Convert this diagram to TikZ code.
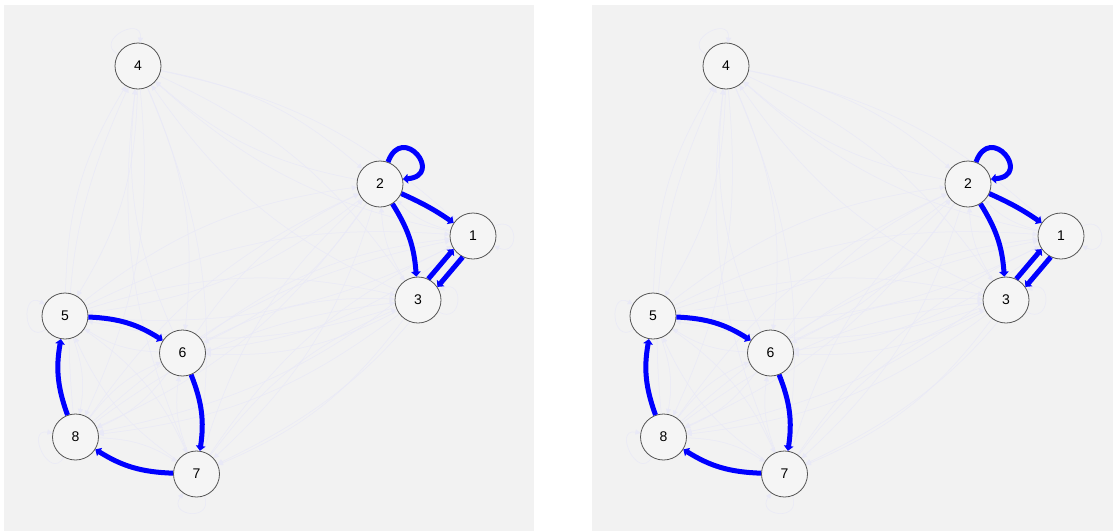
\documentclass[tikz,border=0pt]{standalone}
\usepackage{fontspec}
\setmainfont{Liberation Sans}
\usetikzlibrary{arrows.meta}
\pgfdeclarelayer{panelbg}
\pgfdeclarelayer{edgelayer}
\pgfsetlayers{panelbg,edgelayer,main}
\definecolor{bgc}{RGB}{242,242,242}
\definecolor{faintc}{RGB}{233,233,247}
\definecolor{nodefill}{RGB}{245,245,245}
\definecolor{nodeline}{RGB}{85,85,85}
\tikzset{
  vtx/.style={circle,draw=nodeline,fill=nodefill,line width=0.8pt,minimum size=46pt,inner sep=0pt,font=\fontsize{14}{14}\selectfont},
  faint/.style={draw=faintc,line width=0.5pt,-{Triangle[length=5pt,width=5pt]}},
  strong/.style={draw=blue,line width=5pt,-{Triangle[length=5pt,width=9.5pt]}},
}
\newcommand\drawpanel[2]{%
\begin{scope}[xshift=#2pt]
  \begin{pgfonlayer}{panelbg}
    \fill[bgc] (4,-5) rectangle (534,-531);
  \end{pgfonlayer}
  \node[vtx] (#1n1) at (473,-236) {1};
  \node[vtx] (#1n2) at (380,-184) {2};
  \node[vtx] (#1n3) at (418,-300) {3};
  \node[vtx] (#1n4) at (138,-66) {4};
  \node[vtx] (#1n5) at (65,-316) {5};
  \node[vtx] (#1n6) at (182.5,-353) {6};
  \node[vtx] (#1n7) at (196.5,-474) {7};
  \node[vtx] (#1n8) at (75.5,-437) {8};
  \begin{pgfonlayer}{edgelayer}
  \foreach \a/\b in {1/2,1/4,1/5,1/6,1/7,1/8,2/4,2/5,2/6,2/7,2/8,3/2,3/4,3/5,3/6,3/7,3/8,
                     4/1,4/2,4/3,4/5,4/6,4/7,4/8,5/1,5/2,5/3,5/4,5/7,5/8,6/1,6/2,6/3,6/4,6/5,6/8,
                     7/1,7/2,7/3,7/4,7/5,7/6,8/1,8/2,8/3,8/4,8/6,8/7}
    {\draw[faint] (#1n\a) to[bend left=15] (#1n\b);}
  \draw[faint] (#1n4) to[out=150,in=85,min distance=28pt] (#1n4);
  \draw[faint] (#1n5) to[out=215,in=150,min distance=28pt] (#1n5);
  \draw[faint] (#1n8) to[out=240,in=170,min distance=28pt] (#1n8);
  \draw[faint] (#1n7) to[out=290,in=235,min distance=28pt] (#1n7);
  \draw[faint] (#1n3) to[out=-30,in=25,min distance=28pt] (#1n3);
  \draw[faint] (#1n1) to[out=25,in=-25,min distance=28pt] (#1n1);
  \end{pgfonlayer}
  \draw[strong] (#1n2.70) to[out=70,in=5,min distance=42pt] (#1n2.12);
  \draw[strong] (#1n2) to[bend left=5] (#1n1);
  \draw[strong] (#1n2) to[bend left=14] (#1n3);
  \draw[strong] (#1n3.64) -- (#1n1.214);
  \draw[strong] (#1n1.244) -- (#1n3.34);
  \draw[strong] (#1n5) to[bend left=15] (#1n6);
  \draw[strong] (#1n6) to[bend left=15] (#1n7);
  \draw[strong] (#1n7) to[bend left=15] (#1n8);
  \draw[strong] (#1n8) to[bend left=15] (#1n5);
\end{scope}}
\begin{document}
\begin{tikzpicture}[x=1pt,y=1pt]
  \useasboundingbox (0,0) rectangle (1113,-531);
  \begin{pgfonlayer}{panelbg}
    \fill[white] (0,0) rectangle (1113,-531);
  \end{pgfonlayer}
  \drawpanel{L}{0}
  \drawpanel{R}{588}
\end{tikzpicture}
\end{document}
